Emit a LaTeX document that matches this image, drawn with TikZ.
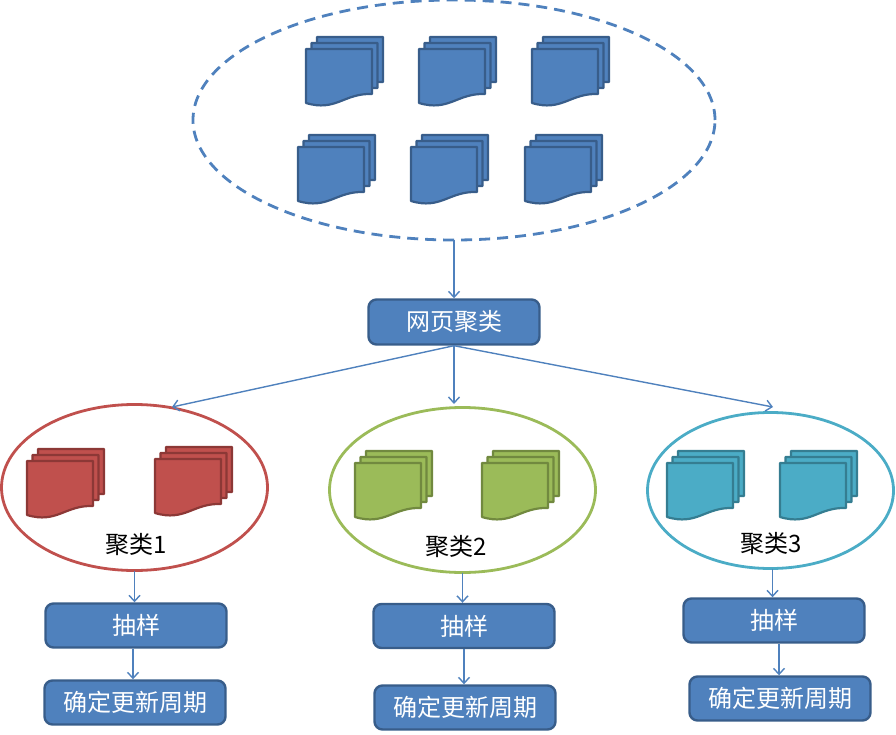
\documentclass[tikz,border=0pt]{standalone}
\usepackage{fontspec}
\setmainfont{Noto Sans CJK SC}
\usetikzlibrary{shapes.geometric,arrows.meta}
\definecolor{bluefill}{HTML}{4F81BD}
\definecolor{blueline}{HTML}{385D8A}
\definecolor{redfill}{HTML}{C0504D}
\definecolor{redline}{HTML}{8C3836}
\definecolor{greenfill}{HTML}{9BBB59}
\definecolor{greenline}{HTML}{71893F}
\definecolor{tealfill}{HTML}{4BACC6}
\definecolor{tealline}{HTML}{357D91}
\tikzset{
	docstack/.pic={
		\foreach \sx/\sy in {11/-12,5.5/-6,0/0}
			\draw[pic actions,line width=2.2pt,line join=round,shift={(\sx,\sy)}] (0,0) -- (66,0) -- (66,45) .. controls (38,44) and (30,63) .. (0,54) -- cycle;
	},
	taskbox/.style={draw=blueline,fill=bluefill,line width=2.4pt,rounded corners=8pt,minimum width=181pt,minimum height=44pt,text=white,font=\fontsize{24}{28}\selectfont,inner sep=0pt},
	cluster/.style={draw=#1,shape=ellipse,line width=2.8pt,inner sep=0pt,outer sep=0pt},
	clustertext/.style={font=\fontsize{24}{28}\selectfont,text=black,inner sep=0pt},
	flow/.style={draw=bluefill,line width=1.4pt,-{Straight Barb[length=6pt,width=11pt]}}
}
\begin{document}
\begin{tikzpicture}[x=1pt,y=-1pt]
	\useasboundingbox (0,0) rectangle (896,735);
	\node[draw=bluefill,shape=ellipse,dash pattern=on 11pt off 7pt,line width=2.8pt,inner sep=0pt,outer sep=0pt,minimum width=522pt,minimum height=240pt] (pages) at (454,120) {};
	\node[cluster=redfill,minimum width=266pt,minimum height=166pt] (clusterA) at (134.5,487.5) {};
	\node[cluster=greenfill,minimum width=266pt,minimum height=165pt] (clusterB) at (462.5,490) {};
	\node[cluster=tealfill,minimum width=246pt,minimum height=156pt] (clusterC) at (770.5,490.5) {};
	
	\foreach \px/\py in {306/49,419/49,532/49,298/147,411/147,525/147}
		\pic[fill=bluefill,draw=blueline] at (\px,\py) {docstack};
	\foreach \px/\py in {27/461,155/459}
		\pic[fill=redfill,draw=redline] at (\px,\py) {docstack};
	\foreach \px/\py in {355/463,482/463}
		\pic[fill=greenfill,draw=greenline] at (\px,\py) {docstack};
	\foreach \px/\py in {667/463,780/463}
		\pic[fill=tealfill,draw=tealline] at (\px,\py) {docstack};
	
	\node[taskbox,minimum width=171pt,minimum height=45pt] (merge) at (454,322) {网页聚类};
	\node[clustertext] (labelA) at (136,545) {聚类1};
	\node[clustertext] (labelB) at (456,547) {聚类2};
	\node[clustertext] (labelC) at (771,544) {聚类3};
	\node[taskbox] (sampleA) at (136,625.5) {抽样};
	\node[taskbox] (sampleB) at (464,626) {抽样};
	\node[taskbox] (sampleC) at (774,620.5) {抽样};
	\node[taskbox] (cycleA) at (135,702.5) {确定更新周期};
	\node[taskbox] (cycleB) at (465,707.5) {确定更新周期};
	\node[taskbox] (cycleC) at (780,698.5) {确定更新周期};
	
	\coordinate (inA) at (172,407);
	\coordinate (inB) at (454,404);
	\coordinate (inC) at (773,407);
	
	\draw[flow] (pages.south) -- (merge.north);
	\draw[flow] (merge.south) -- (inA);
	\draw[flow] (merge.south) -- (inB);
	\draw[flow] (merge.south) -- (inC);
	\draw[flow] (clusterA.south) -- (clusterA.south |- sampleA.north);
	\draw[flow] (clusterB.south) -- (clusterB.south |- sampleB.north);
	\draw[flow] ([xshift=2pt]clusterC.south) -- ([xshift=2pt]clusterC.south |- sampleC.north);
	\draw[flow] ([xshift=-3pt]sampleA.south) -- ([xshift=-3pt]sampleA.south |- cycleA.north);
	\draw[flow] (sampleB.south) -- (sampleB.south |- cycleB.north);
	\draw[flow] ([xshift=5pt]sampleC.south) -- ([xshift=5pt]sampleC.south |- cycleC.north);
\end{tikzpicture}
\end{document}
